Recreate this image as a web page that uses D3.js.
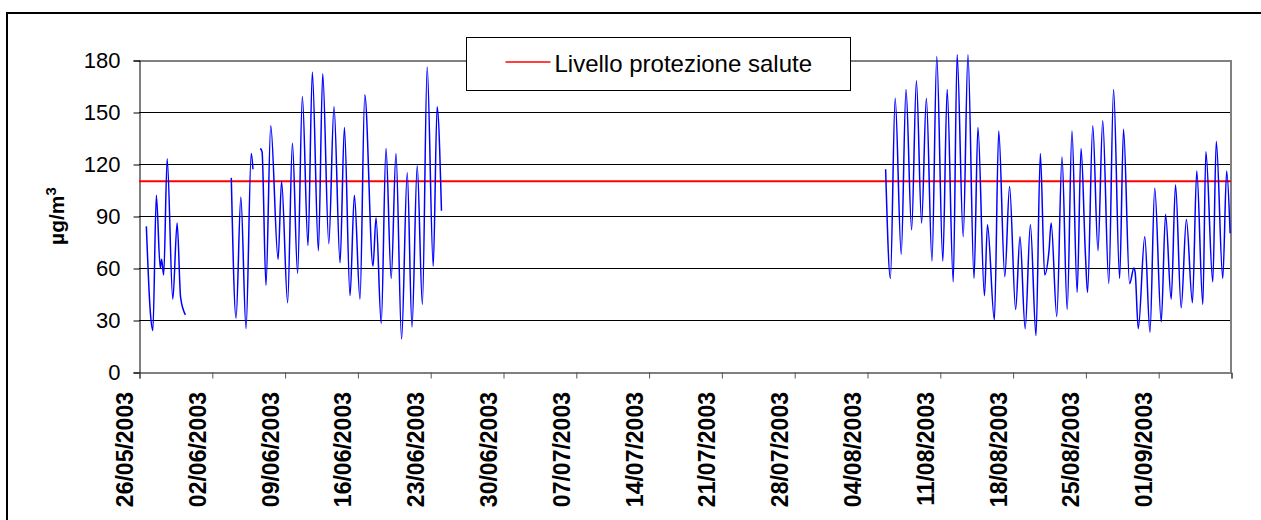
<!DOCTYPE html>
<html>
<head>
<meta charset="utf-8">
<script src="https://cdn.jsdelivr.net/npm/d3@7"></script>
<style>
  body { margin: 0; background: #fff; }
  svg { display: block; font-family: "Liberation Sans", Arial, sans-serif; }
</style>
</head>
<body>
<div id="chart"></div>
<script>
// Hourly ozone readings (peaks and troughs of each day).
// A null value marks a gap in the measurements.
var obsTime = [
  "26/05/2003 17", "27/05/2003 02", "27/05/2003 08", "27/05/2003 16", "28/05/2003 01", "28/05/2003 04",
  "28/05/2003 09", "28/05/2003 17", "29/05/2003 06", "29/05/2003 16", "30/05/2003 00", "30/05/2003 11",
  "31/05/2003 12",
  "03/06/2003 21", "04/06/2003 08", "04/06/2003 19", "05/06/2003 07", "05/06/2003 19", "05/06/2003 23",
  "06/06/2003 08",
  "06/06/2003 16", "06/06/2003 20", "07/06/2003 05", "07/06/2003 16", "08/06/2003 09", "08/06/2003 17",
  "09/06/2003 07", "09/06/2003 18", "10/06/2003 06", "10/06/2003 17", "11/06/2003 06", "11/06/2003 16",
  "12/06/2003 06", "12/06/2003 16", "13/06/2003 06", "13/06/2003 18", "14/06/2003 08", "14/06/2003 18",
  "15/06/2003 07", "15/06/2003 17", "16/06/2003 06", "16/06/2003 17", "17/06/2003 12", "17/06/2003 19",
  "18/06/2003 07", "18/06/2003 18", "19/06/2003 06", "19/06/2003 17", "20/06/2003 06", "20/06/2003 19",
  "21/06/2003 06", "21/06/2003 18", "22/06/2003 06", "22/06/2003 17", "23/06/2003 07", "23/06/2003 16",
  "24/06/2003 02",
  "01/07/2003 00",
  "05/08/2003 19", "06/08/2003 06", "06/08/2003 17", "07/08/2003 07", "07/08/2003 18", "08/08/2003 07",
  "08/08/2003 18", "09/08/2003 06", "09/08/2003 17", "10/08/2003 06", "10/08/2003 17", "11/08/2003 07",
  "11/08/2003 17", "12/08/2003 07", "12/08/2003 16", "13/08/2003 06", "13/08/2003 17", "14/08/2003 07",
  "14/08/2003 16", "15/08/2003 07", "15/08/2003 14", "16/08/2003 06", "16/08/2003 16", "17/08/2003 06",
  "17/08/2003 17", "18/08/2003 07", "18/08/2003 17", "19/08/2003 05", "19/08/2003 17", "20/08/2003 06",
  "20/08/2003 16", "21/08/2003 02", "21/08/2003 12", "21/08/2003 17", "22/08/2003 06", "22/08/2003 18",
  "23/08/2003 06", "23/08/2003 17", "24/08/2003 05", "24/08/2003 14", "25/08/2003 00", "25/08/2003 05",
  "25/08/2003 17", "26/08/2003 05", "26/08/2003 16", "27/08/2003 06", "27/08/2003 17", "28/08/2003 07",
  "28/08/2003 16", "29/08/2003 06", "29/08/2003 16", "29/08/2003 19", "30/08/2003 02", "30/08/2003 17",
  "31/08/2003 05", "31/08/2003 16", "01/09/2003 07", "01/09/2003 17", "02/09/2003 06", "02/09/2003 16",
  "03/09/2003 05", "03/09/2003 17", "04/09/2003 07", "04/09/2003 17", "05/09/2003 07", "05/09/2003 14",
  "06/09/2003 06", "06/09/2003 14", "07/09/2003 05", "07/09/2003 14", "07/09/2003 22"
];
var obsValue = [
  84, 35, 24, 102, 60, 65,
  56, 123, 42, 86, 43, 33,
  null,
  112, 31, 101, 25, 126, 117,
  null,
  129, 127, 50, 142, 65, 110,
  40, 132, 57, 159, 73, 173,
  70, 172, 74, 153, 63, 141,
  44, 102, 42, 160, 61, 89,
  28, 129, 54, 126, 19, 115,
  26, 119, 39, 176, 61, 153,
  93,
  null,
  117, 54, 158, 68, 163, 82,
  168, 86, 158, 64, 182, 64,
  163, 52, 183, 78, 183, 54,
  141, 44, 85, 30, 139, 55,
  107, 36, 78, 25, 85, 21,
  126, 56, 70, 86, 32, 124,
  36, 139, 46, 129, 68, 46,
  142, 70, 145, 51, 163, 54,
  140, 51, 60, 57, 25, 78,
  23, 106, 29, 91, 42, 108,
  37, 88, 40, 116, 39, 127,
  52, 133, 54, 116, 80
];

var tickLabels = ["26/05/2003", "02/06/2003", "09/06/2003", "16/06/2003", "23/06/2003", "30/06/2003",
  "07/07/2003", "14/07/2003", "21/07/2003", "28/07/2003", "04/08/2003", "11/08/2003",
  "18/08/2003", "25/08/2003", "01/09/2003", "08/09/2003"];
var yTicks = [0, 30, 60, 90, 120, 150, 180];
var healthLimit = 110;
var legendLabel = "Livello protezione salute";

var width = 1261, height = 520;
var margin = { top: 60, right: 30, bottom: 148, left: 139 };

var parseObs = d3.timeParse("%d/%m/%Y %H");
var parseDay = d3.timeParse("%d/%m/%Y");

var series = obsTime.map(function (t, i) {
  return { date: parseObs(t), value: obsValue[i] };
});
var tickDates = tickLabels.map(parseDay);

var svg = d3.select("#chart")
  .append("svg")
  .attr("width", width)
  .attr("height", height);

// outer chart frame (runs off the picture on the right and bottom)
svg.append("rect")
  .attr("x", 7).attr("y", 13)
  .attr("width", 1300).attr("height", 600)
  .attr("fill", "none")
  .attr("stroke", "#000")
  .attr("stroke-width", 2);

var x = d3.scaleTime()
  .domain([tickDates[0], tickDates[tickDates.length - 1]])
  .range([margin.left, 1231]);

var y = d3.scaleLinear()
  .domain([0, 180])
  .range([372, margin.top]);

// horizontal gridlines
svg.append("g")
  .selectAll("line")
  .data(yTicks.slice(1, -1))
  .enter()
  .append("line")
  .attr("x1", x.range()[0]).attr("x2", x.range()[1])
  .attr("y1", function (d) { return y(d) + 0.5; })
  .attr("y2", function (d) { return y(d) + 0.5; })
  .attr("stroke", "#000")
  .attr("stroke-width", 1);

// plot area border (top and right are grey)
svg.append("path")
  .attr("d", "M" + x.range()[0] + "," + (y(180) + 1) + "H" + x.range()[1] + "V372")
  .attr("fill", "none")
  .attr("stroke", "#808080")
  .attr("stroke-width", 2);

// y axis
var yAxis = svg.append("g")
  .attr("transform", "translate(" + (x.range()[0] + 0.5) + ",0.5)")
  .call(d3.axisLeft(y).tickValues(yTicks).tickSize(6).tickPadding(13));
yAxis.select(".domain").attr("stroke", "#000");
yAxis.selectAll(".tick line").attr("stroke", "#000");
yAxis.selectAll("text")
  .attr("font-size", 22)
  .attr("fill", "#000")
  .attr("font-family", "Liberation Sans, Arial, sans-serif");

// x axis
var xAxis = svg.append("g")
  .attr("transform", "translate(0.5," + (y(0) + 0.5) + ")")
  .call(d3.axisBottom(x).tickValues(tickDates).tickSize(6).tickFormat(""));
xAxis.select(".domain").attr("stroke", "#000");
xAxis.selectAll(".tick line").attr("stroke", "#555");

svg.append("g")
  .selectAll("text")
  .data(tickDates.slice(0, -1))
  .enter()
  .append("text")
  .attr("transform", function (d, i) {
    return "translate(" + (x(d) - 6) + ",392) rotate(-90)";
  })
  .attr("text-anchor", "end")
  .attr("font-size", 23)
  .attr("font-weight", "bold")
  .attr("fill", "#000")
  .text(function (d, i) { return tickLabels[i]; });

// y axis title
var yTitle = svg.append("text")
  .attr("transform", "translate(64," + ((y(0) + y(180)) / 2) + ") rotate(-90)")
  .attr("text-anchor", "middle")
  .attr("font-size", 21)
  .attr("font-weight", "bold")
  .attr("fill", "#000");
yTitle.append("tspan").text("µg/m");
yTitle.append("tspan").attr("font-size", 15).attr("dy", -8).text("3");

// health protection level
svg.append("line")
  .attr("x1", x.range()[0]).attr("x2", x.range()[1])
  .attr("y1", y(healthLimit)).attr("y2", y(healthLimit))
  .attr("stroke", "#ff0000")
  .attr("stroke-width", 2);

// ozone line
var line = d3.line()
  .defined(function (d) { return d.value != null; })
  .x(function (d) { return x(d.date); })
  .y(function (d) { return y(d.value); })
  .curve(d3.curveMonotoneX);

svg.append("path")
  .datum(series)
  .attr("d", line)
  .attr("fill", "none")
  .attr("stroke", "#0000ff")
  .attr("stroke-width", 1.5);

// legend
var legend = svg.append("g").attr("transform", "translate(466.5,37.5)");
legend.append("rect")
  .attr("width", 384).attr("height", 53)
  .attr("fill", "#fff")
  .attr("stroke", "#000")
  .attr("stroke-width", 1);
legend.append("line")
  .attr("x1", 39).attr("x2", 84)
  .attr("y1", 24.5).attr("y2", 24.5)
  .attr("stroke", "#ff0000")
  .attr("stroke-width", 1.5);
legend.append("text")
  .attr("x", 88).attr("y", 34)
  .attr("font-size", 24)
  .attr("fill", "#000")
  .text(legendLabel);
</script>
</body>
</html>
